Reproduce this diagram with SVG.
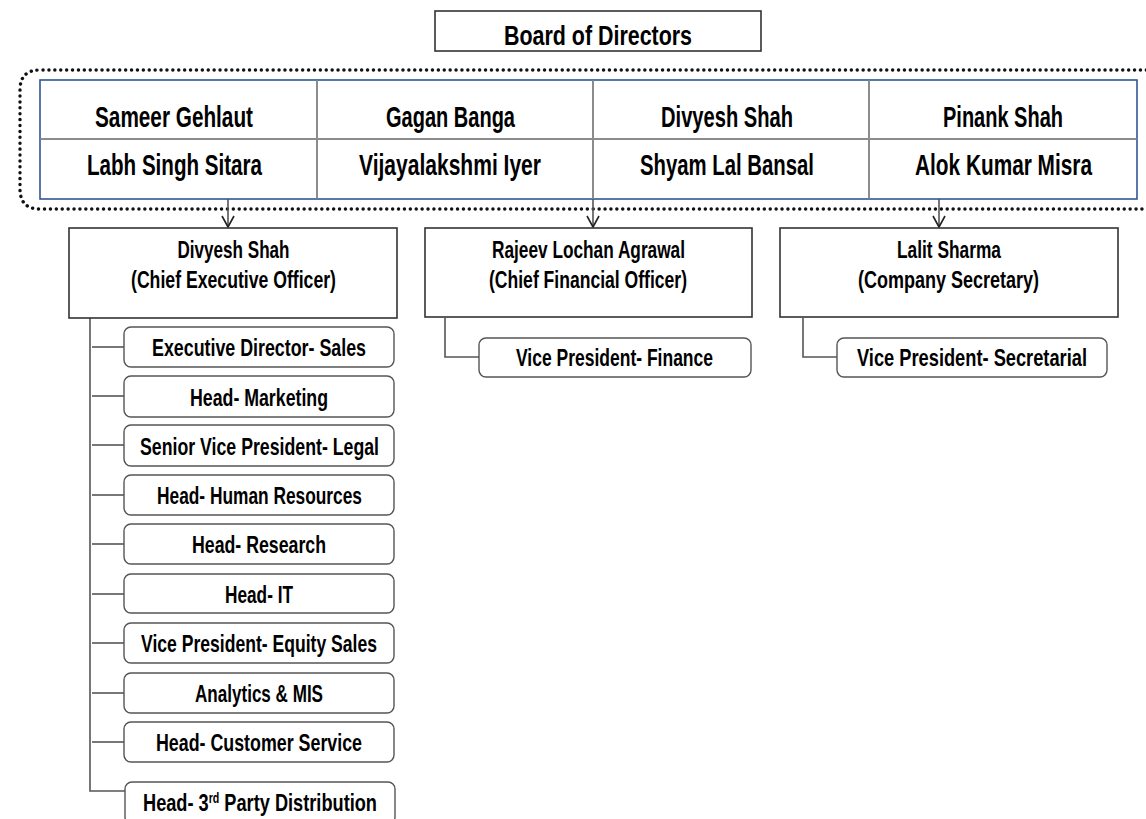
<svg xmlns="http://www.w3.org/2000/svg" width="1146" height="819" viewBox="0 0 1146 819">
<defs>
<style>
text{font-family:"Liberation Sans Narrow","Liberation Sans",Arial,sans-serif;font-weight:bold;fill:#000;text-anchor:middle}
.big{font-size:30px}
.brd{font-size:28px}
.mid{font-size:24px}
.sm{font-size:24px}
.box{fill:#fff;stroke:#333;stroke-width:1.6}
.rbox{fill:#fff;stroke:#555;stroke-width:1.4}
.conn{fill:none;stroke:#555;stroke-width:1.6}
</style>
<marker id="arr" markerUnits="userSpaceOnUse" markerWidth="16" markerHeight="16" refX="12" refY="7" orient="auto" viewBox="0 0 16 14">
<path d="M1,1 L12,7 L1,13" fill="none" stroke="#222" stroke-width="1.6"/>
</marker>
</defs>
<rect width="1146" height="819" fill="#fff"/>

<g id="board">
<rect x="435" y="11" width="326" height="40" class="box"/>
<text x="598" y="45" class="brd" textLength="188" lengthAdjust="spacingAndGlyphs">Board of Directors</text>
</g>

<g id="directors">
<path d="M1170,70 L40,70 Q20,70 20,90 L20,189 Q20,209 40,209 L1170,209" fill="none" stroke="#111" stroke-width="3.4" stroke-dasharray="0.1 5.8" stroke-linecap="round"/>
<rect x="40" y="80" width="1097" height="119" fill="#fff" stroke="#2F5597" stroke-width="1.6"/>
<line x1="40.5" y1="139" x2="1136.5" y2="139" stroke="#8c8c8c" stroke-width="2"/>
<line x1="317" y1="80.5" x2="317" y2="198.5" stroke="#8c8c8c" stroke-width="2"/>
<line x1="593" y1="80.5" x2="593" y2="198.5" stroke="#8c8c8c" stroke-width="2"/>
<line x1="869" y1="80.5" x2="869" y2="198.5" stroke="#8c8c8c" stroke-width="2"/>
<text x="174" y="127" class="big" textLength="158" lengthAdjust="spacingAndGlyphs">Sameer Gehlaut</text>
<text x="174.5" y="175" class="big" textLength="175" lengthAdjust="spacingAndGlyphs">Labh Singh Sitara</text>
<text x="450.5" y="127" class="big" textLength="129" lengthAdjust="spacingAndGlyphs">Gagan Banga</text>
<text x="450" y="175" class="big" textLength="182" lengthAdjust="spacingAndGlyphs">Vijayalakshmi Iyer</text>
<text x="727" y="127" class="big" textLength="132" lengthAdjust="spacingAndGlyphs">Divyesh Shah</text>
<text x="727" y="175" class="big" textLength="174" lengthAdjust="spacingAndGlyphs">Shyam Lal Bansal</text>
<text x="1003" y="127" class="big" textLength="120" lengthAdjust="spacingAndGlyphs">Pinank Shah</text>
<text x="1003.5" y="175" class="big" textLength="177" lengthAdjust="spacingAndGlyphs">Alok Kumar Misra</text>
</g>

<g id="connectors">
<line x1="228" y1="199" x2="228" y2="227" class="conn" marker-end="url(#arr)"/>
<line x1="593" y1="199" x2="593" y2="227" class="conn" marker-end="url(#arr)"/>
<line x1="939" y1="199" x2="939" y2="227" class="conn" marker-end="url(#arr)"/>
<path d="M445,318 L445,357 L479,357" class="conn"/>
<path d="M803,318 L803,357 L837,357" class="conn"/>
<path d="M90,318 L90,791 L125,791" class="conn"/>
<line x1="92" y1="347" x2="124" y2="347" class="conn"/>
<line x1="92" y1="396" x2="124" y2="396" class="conn"/>
<line x1="92" y1="445" x2="124" y2="445" class="conn"/>
<line x1="92" y1="495" x2="124" y2="495" class="conn"/>
<line x1="92" y1="544" x2="124" y2="544" class="conn"/>
<line x1="92" y1="594" x2="124" y2="594" class="conn"/>
<line x1="92" y1="643" x2="124" y2="643" class="conn"/>
<line x1="92" y1="693" x2="124" y2="693" class="conn"/>
<line x1="92" y1="742" x2="124" y2="742" class="conn"/>
</g>

<g id="ceo">
<rect x="69" y="228" width="328" height="90" class="box"/>
<text x="233.5" y="258" class="mid" textLength="112" lengthAdjust="spacingAndGlyphs">Divyesh Shah</text>
<text x="233.5" y="288" class="mid" textLength="205" lengthAdjust="spacingAndGlyphs">(Chief Executive Officer)</text>
</g>
<g id="cfo">
<rect x="425" y="228" width="327" height="89" class="box"/>
<text x="588.5" y="258" class="mid" textLength="193" lengthAdjust="spacingAndGlyphs">Rajeev Lochan Agrawal</text>
<text x="588" y="288" class="mid" textLength="198" lengthAdjust="spacingAndGlyphs">(Chief Financial Officer)</text>
</g>
<g id="cs">
<rect x="780" y="228" width="338" height="89" class="box"/>
<text x="949" y="258" class="mid" textLength="104" lengthAdjust="spacingAndGlyphs">Lalit Sharma</text>
<text x="948.5" y="288" class="mid" textLength="181" lengthAdjust="spacingAndGlyphs">(Company Secretary)</text>
</g>

<g id="vp-finance">
<rect x="479" y="338" width="272" height="39" rx="7" class="rbox"/>
<text x="614.5" y="366" class="sm" textLength="197" lengthAdjust="spacingAndGlyphs">Vice President- Finance</text>
</g>
<g id="vp-secretarial">
<rect x="837" y="338" width="270" height="39" rx="7" class="rbox"/>
<text x="972" y="366" class="sm" textLength="230" lengthAdjust="spacingAndGlyphs">Vice President- Secretarial</text>
</g>

<g id="ed-sales">
<rect x="124" y="327" width="270" height="40" rx="7" class="rbox"/>
<text x="259" y="356" class="sm" textLength="214" lengthAdjust="spacingAndGlyphs">Executive Director- Sales</text>
</g>
<g id="head-marketing">
<rect x="124" y="376" width="270" height="41" rx="7" class="rbox"/>
<text x="259" y="406" class="sm" textLength="138" lengthAdjust="spacingAndGlyphs">Head- Marketing</text>
</g>
<g id="svp-legal">
<rect x="124" y="425" width="270" height="41" rx="7" class="rbox"/>
<text x="259.5" y="455" class="sm" textLength="239" lengthAdjust="spacingAndGlyphs">Senior Vice President- Legal</text>
</g>
<g id="head-hr">
<rect x="124" y="475" width="270" height="40" rx="7" class="rbox"/>
<text x="259.5" y="504" class="sm" textLength="205" lengthAdjust="spacingAndGlyphs">Head- Human Resources</text>
</g>
<g id="head-research">
<rect x="124" y="524" width="270" height="40" rx="7" class="rbox"/>
<text x="259" y="553" class="sm" textLength="134" lengthAdjust="spacingAndGlyphs">Head- Research</text>
</g>
<g id="head-it">
<rect x="124" y="574" width="270" height="39" rx="7" class="rbox"/>
<text x="259" y="603" class="sm" textLength="68" lengthAdjust="spacingAndGlyphs">Head- IT</text>
</g>
<g id="vp-equity">
<rect x="124" y="623" width="270" height="40" rx="7" class="rbox"/>
<text x="259" y="652" class="sm" textLength="236" lengthAdjust="spacingAndGlyphs">Vice President- Equity Sales</text>
</g>
<g id="analytics">
<rect x="124" y="673" width="270" height="40" rx="7" class="rbox"/>
<text x="259" y="702" class="sm" textLength="128" lengthAdjust="spacingAndGlyphs">Analytics &amp; MIS</text>
</g>
<g id="head-cs">
<rect x="124" y="722" width="270" height="40" rx="7" class="rbox"/>
<text x="259" y="751" class="sm" textLength="206" lengthAdjust="spacingAndGlyphs">Head- Customer Service</text>
</g>
<g id="head-3pd">
<rect x="125" y="782" width="270" height="42" rx="7" class="rbox"/>
<text x="260" y="811" class="sm" textLength="234" lengthAdjust="spacingAndGlyphs">Head- 3<tspan dy="-8" font-size="14">rd</tspan><tspan dy="8"> Party Distribution</tspan></text>
</g>
</svg>
